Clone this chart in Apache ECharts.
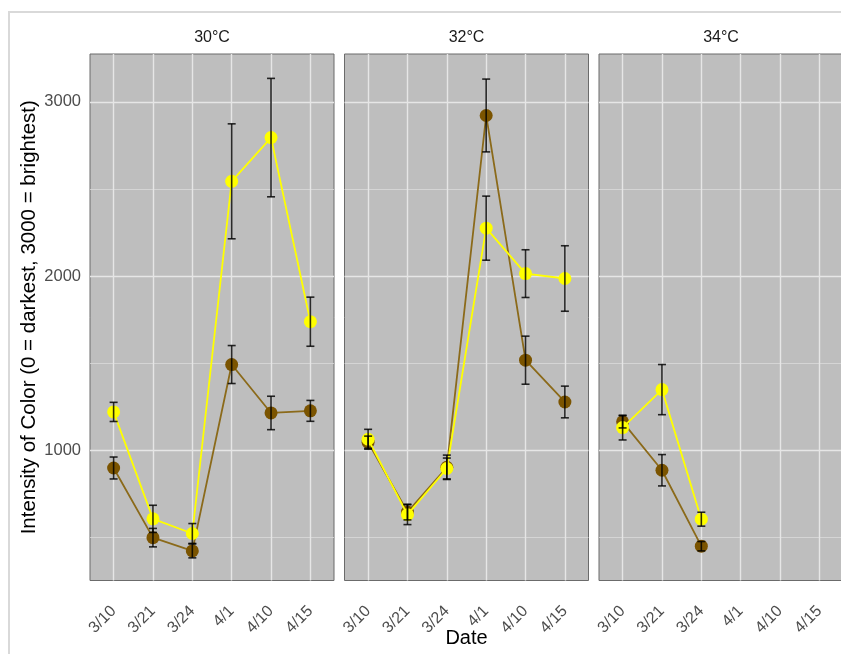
<!DOCTYPE html>
<html>
<head>
<meta charset="utf-8">
<script src="https://cdn.jsdelivr.net/npm/echarts@6/dist/echarts.min.js"></script>
<style>
  html, body { margin: 0; padding: 0; background: #ffffff; }
  #chart { width: 841px; height: 654px; }
</style>
</head>
<body>
<div id="chart"></div>
<script>
// Sampling dates (x categories) and temperature facets
const dates = ['3/10', '3/21', '3/24', '4/1', '4/10', '4/15'];
const panelTitles = ['30°C', '32°C', '34°C'];

// Mean colour intensity and standard error, yellow and brown groups, per temperature
const yellowMean30 = [1220, 606, 522, 2544, 2795, 1738];
const yellowSe30   = [55, 78, 57, 330, 340, 141];
const brownMean30  = [898, 498, 422, 1492, 1214, 1226];
const brownSe30    = [63, 53, 40, 109, 96, 60];

const yellowMean32 = [1063, 630, 895, 2275, 2014, 1986];
const yellowSe32   = [57, 57, 60, 184, 137, 188];
const brownMean32  = [1046, 645, 902, 2922, 1517, 1277];
const brownSe32    = [35, 45, 70, 209, 138, 91];

const yellowMean34 = [1130, 1348, 604, null, null, null];
const yellowSe34   = [71, 144, 40, null, null, null];
const brownMean34  = [1163, 885, 449, null, null, null];
const brownSe34    = [35, 90, 27, null, null, null];

const yTickLabels = [1000, 2000, 3000];

const panelData = [
  { yellow: yellowMean30, yellowSe: yellowSe30, brown: brownMean30, brownSe: brownSe30 },
  { yellow: yellowMean32, yellowSe: yellowSe32, brown: brownMean32, brownSe: brownSe32 },
  { yellow: yellowMean34, yellowSe: yellowSe34, brown: brownMean34, brownSe: brownSe34 }
];

const FONT = '"Liberation Sans", Arial, Helvetica, sans-serif';
const YELLOW = '#ffff00';
const BROWN_POINT = '#7b5400';
const BROWN_LINE = '#8b6a1a';

const panelLefts = [90, 344.5, 599];
const panelWidth = 244;
const panelTop = 54;
const panelHeight = 526.5;

function points(means) {
  const out = [];
  means.forEach((v, i) => { if (v != null) out.push([i, v]); });
  return out;
}
function bars(means, se) {
  const out = [];
  means.forEach((v, i) => { if (v != null) out.push([i, v - se[i], v + se[i]]); });
  return out;
}

function errorBarItem(params, api) {
  const x = api.value(0);
  const lo = api.coord([x, api.value(1)]);
  const hi = api.coord([x, api.value(2)]);
  const cap = 4;
  const style = { stroke: 'rgba(0,0,0,0.82)', lineWidth: 1.6 };
  return {
    type: 'group',
    children: [
      { type: 'line', shape: { x1: hi[0], y1: hi[1], x2: lo[0], y2: lo[1] }, style },
      { type: 'line', shape: { x1: hi[0] - cap, y1: hi[1], x2: hi[0] + cap, y2: hi[1] }, style },
      { type: 'line', shape: { x1: lo[0] - cap, y1: lo[1], x2: lo[0] + cap, y2: lo[1] }, style }
    ]
  };
}

const grids = [], xAxes = [], yAxes = [], series = [], graphics = [];

// light frame around the plotting device
graphics.push({
  type: 'rect', z: -10,
  shape: { x: 9, y: 12, width: 900, height: 700 },
  style: { fill: 'none', stroke: '#d9d9d9', lineWidth: 2 }
});

panelTitles.forEach((title, p) => {
  grids.push({
    left: panelLefts[p], top: panelTop, width: panelWidth, height: panelHeight,
    containLabel: false, outerBoundsMode: 'none',
    show: true, backgroundColor: '#bebebe', borderColor: '#6b6b6b', borderWidth: 1
  });

  xAxes.push({
    type: 'value', gridIndex: p, min: -0.6, max: 5.6, splitNumber: 6,
    axisLine: { show: false }, axisTick: { show: false },
    splitLine: { show: true, showMinLine: false, showMaxLine: false,
      lineStyle: { color: '#e6e6e6', width: 1.4 } },
    axisLabel: {
      rotate: 45, margin: 28, fontSize: 16, color: '#4d4d4d', fontFamily: FONT,
      formatter: v => (Number.isInteger(v) && v >= 0 && v < dates.length) ? dates[v] : ''
    },
    name: p === 1 ? 'Date' : '',
    nameLocation: 'middle', nameGap: 48, nameMoveOverlap: false,
    nameTextStyle: { fontSize: 20, color: '#000000', fontFamily: FONT }
  });

  yAxes.push({
    type: 'value', gridIndex: p, min: 252, max: 3275, splitNumber: 3,
    axisLine: { show: false }, axisTick: { show: false },
    splitLine: { show: true, showMinLine: false, showMaxLine: false,
      lineStyle: { color: '#e6e6e6', width: 1.4 } },
    minorTick: { show: false, splitNumber: 2 },
    minorSplitLine: { show: true, lineStyle: { color: '#dadada', width: 0.8 } },
    axisLabel: {
      show: p === 0, margin: 9, fontSize: 16.5, color: '#4d4d4d', fontFamily: FONT,
      formatter: v => yTickLabels.includes(v) ? String(v) : ''
    },
    name: p === 0 ? 'Intensity of Color (0 = darkest, 3000 = brightest)' : '',
    nameLocation: 'middle', nameGap: 50, nameRotate: 90,
    nameTextStyle: { fontSize: 20.5, color: '#000000', fontFamily: FONT }
  });

  // facet strip label
  graphics.push({
    type: 'text', x: panelLefts[p] + panelWidth / 2, y: 38,
    style: { text: title, align: 'center', verticalAlign: 'middle',
      fontSize: 16, fill: '#1a1a1a', fontFamily: FONT }
  });

  const d = panelData[p];
  series.push({
    type: 'line', xAxisIndex: p, yAxisIndex: p, z: 2,
    data: points(d.brown), symbol: 'circle', symbolSize: 13,
    itemStyle: { color: BROWN_POINT }, lineStyle: { color: BROWN_LINE, width: 1.8 },
    emphasis: { disabled: true }, silent: true
  });
  series.push({
    type: 'line', xAxisIndex: p, yAxisIndex: p, z: 3,
    data: points(d.yellow), symbol: 'circle', symbolSize: 13,
    itemStyle: { color: YELLOW }, lineStyle: { color: YELLOW, width: 1.8 },
    emphasis: { disabled: true }, silent: true
  });
  series.push({
    type: 'custom', xAxisIndex: p, yAxisIndex: p, z: 4,
    data: bars(d.brown, d.brownSe), renderItem: errorBarItem,
    encode: { x: 0, y: [1, 2] }, silent: true
  });
  series.push({
    type: 'custom', xAxisIndex: p, yAxisIndex: p, z: 5,
    data: bars(d.yellow, d.yellowSe), renderItem: errorBarItem,
    encode: { x: 0, y: [1, 2] }, silent: true
  });
});

const chart = echarts.init(document.getElementById('chart'), null, { renderer: 'canvas' });
chart.setOption({
  animation: false,
  backgroundColor: '#ffffff',
  grid: grids,
  xAxis: xAxes,
  yAxis: yAxes,
  series: series,
  graphic: graphics
});
</script>
</body>
</html>
